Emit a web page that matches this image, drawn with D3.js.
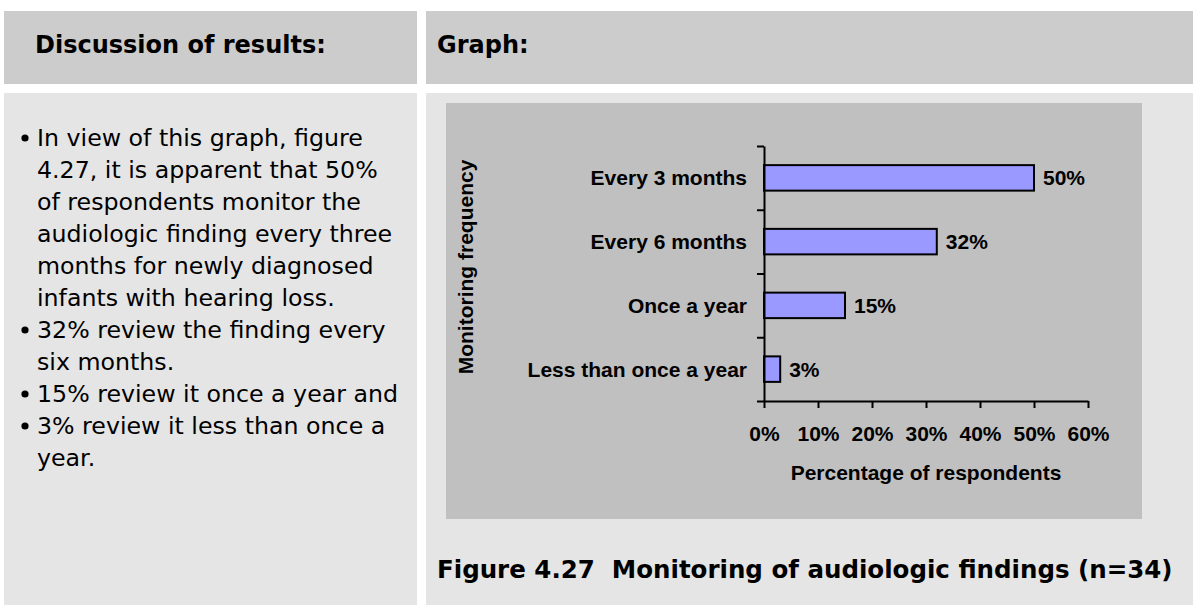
<!DOCTYPE html>
<html>
<head>
<meta charset="utf-8">
<script src="https://cdn.jsdelivr.net/npm/d3@7"></script>
<style>
  html, body { margin: 0; padding: 0; background: #ffffff; }
  svg { display: block; }
  .serifless { font-family: "DejaVu Sans", Verdana, sans-serif; }
  .chart-text { font-family: "Liberation Sans", Arial, sans-serif; font-weight: bold; font-size: 21px; fill: #000; }
</style>
</head>
<body>
<svg id="page" width="1193" height="605"></svg>
<script>
// Monitoring frequency categories and share of respondents (%)
const categories = ["Every 3 months", "Every 6 months", "Once a year", "Less than once a year"];
const percentages = [50, 32, 15, 3];
const xTicks = [0, 10, 20, 30, 40, 50, 60];

// Discussion bullets, wrapped line by line
const bullets = [
  ["In view of this graph, figure", "4.27, it is apparent that 50%", "of respondents monitor the",
   "audiologic finding every three", "months for newly diagnosed", "infants with hearing loss."],
  ["32% review the finding every", "six months."],
  ["15% review it once a year and"],
  ["3% review it less than once a", "year."]
];

const headers = ["Discussion of results:", "Graph:"];
const caption = "Figure 4.27  Monitoring of audiologic findings (n=34)";
const xTitle = "Percentage of respondents";
const yTitle = "Monitoring frequency";

const svg = d3.select("#page");

// Table-like layout: header row and body row, two columns
svg.append("rect").attr("x", 4).attr("y", 11).attr("width", 413).attr("height", 73).attr("fill", "#cccccc");
svg.append("rect").attr("x", 426).attr("y", 11).attr("width", 767).attr("height", 73).attr("fill", "#cccccc");
svg.append("rect").attr("x", 4).attr("y", 93).attr("width", 413).attr("height", 512).attr("fill", "#e5e5e5");
svg.append("rect").attr("x", 426).attr("y", 93).attr("width", 767).attr("height", 512).attr("fill", "#e5e5e5");

svg.selectAll("text.header").data(headers).join("text")
  .attr("class", "header serifless")
  .attr("x", (d, i) => i === 0 ? 35 : 437)
  .attr("y", 53)
  .attr("font-size", 24)
  .attr("font-weight", "bold")
  .attr("fill", "#000")
  .text(d => d);

// Bulleted discussion text
const lineH = 32;
let lineIdx = 0;
const bodyG = svg.append("g");
bullets.forEach(par => {
  bodyG.append("circle")
    .attr("cx", 25).attr("cy", 138 + lineIdx * lineH).attr("r", 3.6).attr("fill", "#000");
  par.forEach(line => {
    bodyG.append("text")
      .attr("class", "serifless")
      .attr("x", 37)
      .attr("y", 146 + lineIdx * lineH)
      .attr("font-size", 23.7)
      .attr("fill", "#000")
      .text(line);
    lineIdx++;
  });
});

// Chart area
svg.append("rect").attr("x", 446).attr("y", 103).attr("width", 696).attr("height", 416).attr("fill", "#c0c0c0");

const x = d3.scaleLinear().domain([0, 60]).range([764, 1088]);
const y = d3.scaleBand().domain(categories).range([146, 401]).paddingInner(0.6).paddingOuter(0.3);
// Boundaries between category bands for the axis ticks
const yEdge = d3.scaleLinear().domain([0, categories.length]).range([146, 401]);

// Bars
svg.append("g").selectAll("rect").data(categories).join("rect")
  .attr("x", x(0))
  .attr("y", d => y(d))
  .attr("width", (d, i) => x(percentages[i]) - x(0))
  .attr("height", y.bandwidth())
  .attr("fill", "#9999ff")
  .attr("stroke", "#000")
  .attr("stroke-width", 2);

// Value labels
svg.append("g").selectAll("text").data(categories).join("text")
  .attr("class", "chart-text")
  .attr("x", (d, i) => x(percentages[i]) + 9)
  .attr("y", d => y(d) + y.bandwidth() / 2)
  .attr("dy", "0.36em")
  .text((d, i) => percentages[i] + "%");

// Category labels
svg.append("g").selectAll("text").data(categories).join("text")
  .attr("class", "chart-text")
  .attr("x", 747)
  .attr("y", d => y(d) + y.bandwidth() / 2)
  .attr("dy", "0.36em")
  .attr("text-anchor", "end")
  .text(d => d);

// Y axis with ticks at band edges
const yAxisG = svg.append("g")
  .attr("transform", `translate(${x(0)},0)`)
  .call(d3.axisLeft(yEdge).ticks(categories.length).tickSize(7).tickSizeOuter(0).tickFormat(""));

// X axis
const xAxisG = svg.append("g")
  .attr("transform", "translate(0,401)")
  .call(d3.axisBottom(x).tickValues(xTicks).tickSize(7).tickSizeOuter(0).tickPadding(18)
        .tickFormat(d => d + "%"));
xAxisG.selectAll("text").attr("class", "chart-text").attr("font-size", null).attr("font-family", null);
xAxisG.attr("font-size", null).attr("font-family", null);
yAxisG.attr("font-size", null).attr("font-family", null);

[xAxisG, yAxisG].forEach(g => {
  g.selectAll("path.domain").attr("stroke", "#000").attr("stroke-width", 2);
  g.selectAll(".tick line").attr("stroke", "#000").attr("stroke-width", 2);
});

// Axis titles
svg.append("text")
  .attr("class", "chart-text")
  .attr("x", 926).attr("y", 480)
  .attr("text-anchor", "middle")
  .text(xTitle);

svg.append("text")
  .attr("class", "chart-text")
  .attr("transform", "translate(473,267) rotate(-90)")
  .attr("text-anchor", "middle")
  .text(yTitle);

// Figure caption
svg.append("text")
  .attr("class", "serifless")
  .attr("x", 437).attr("y", 578)
  .attr("font-size", 24.5)
  .attr("font-weight", "bold")
  .attr("fill", "#000")
  .style("white-space", "pre")
  .text(caption);
</script>
</body>
</html>
